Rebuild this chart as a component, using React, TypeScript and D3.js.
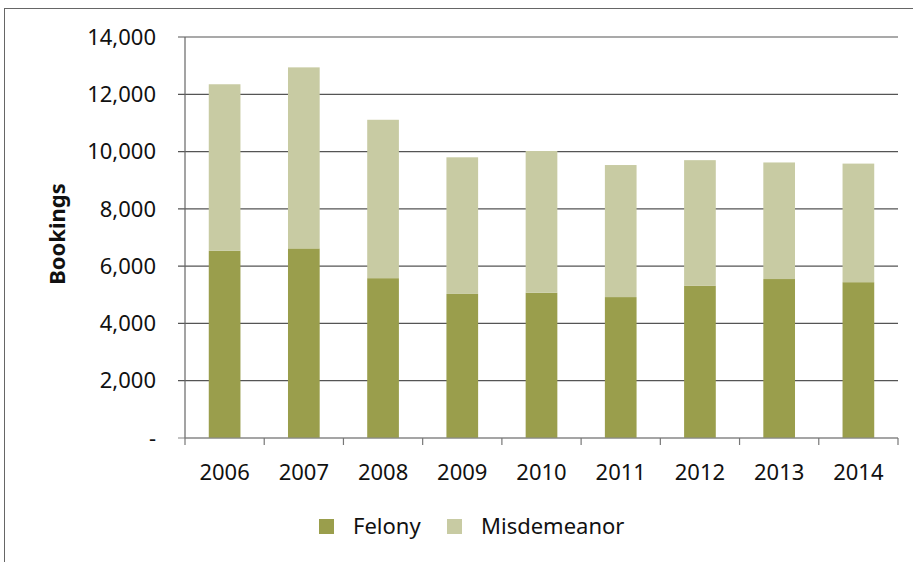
import React from "react";
import * as d3 from "d3";

const years = ["2006", "2007", "2008", "2009", "2010", "2011", "2012", "2013", "2014"];
const felony = [6540, 6620, 5580, 5030, 5070, 4920, 5320, 5550, 5440];
const misdemeanor = [5810, 6320, 5530, 4770, 4950, 4610, 4380, 4070, 4140];
const yTicks = [0, 2000, 4000, 6000, 8000, 10000, 12000, 14000];
const seriesNames = ["Felony", "Misdemeanor"];
const colors = ["#9a9e4c", "#c8cba3"];

export default function App() {
  const W = 913, H = 562;
  const left = 185, right = 898, top = 37, bottom = 438;
  const x = d3.scaleBand().domain(years).range([left, right]).paddingInner(0.6).paddingOuter(0.3);
  const xOuter = d3.scaleBand().domain(years).range([left, right]);
  const y = d3.scaleLinear().domain([0, 14000]).range([bottom, top]);
  const rows = years.map((yr, i) => ({ year: yr, Felony: felony[i], Misdemeanor: misdemeanor[i] }));
  const stacked = d3.stack<any>().keys(seriesNames)(rows);
  const font = "'Noto Sans', 'Open Sans', sans-serif";
  const fmt = (v: number) => (v === 0 ? "-" : d3.format(",")(v));

  return (
    <svg width={W} height={H} style={{ position: "absolute", left: 0, top: 0, background: "#fff" }} fontFamily={font}>
      <rect x={4.5} y={8.5} width={W + 10} height={H + 10} fill="none" stroke="#666" strokeWidth={1} />
      {yTicks.map((t) => (
        <g key={t}>
          <line x1={178} x2={right} y1={y(t)} y2={y(t)} stroke={t === 0 ? "#888" : "#555"} strokeWidth={1.2} />
          <text x={156} y={y(t)} dy="0.35em" textAnchor="end" fontSize={22} fill="#111">{fmt(t)}</text>
        </g>
      ))}
      {stacked.map((s, si) => (
        <g key={s.key} fill={colors[si]}>
          {s.map((d: any, i: number) => (
            <rect key={i} x={x(years[i])} width={x.bandwidth()} y={y(d[1])} height={y(d[0]) - y(d[1])} />
          ))}
        </g>
      ))}
      <line x1={left} x2={left} y1={top} y2={bottom} stroke="#666" strokeWidth={1.2} />
      <line x1={left} x2={right} y1={bottom} y2={bottom} stroke="#888" strokeWidth={1.2} />
      {[...years.map((yr) => xOuter(yr) as number), right].map((px, i) => (
        <line key={i} x1={px} x2={px} y1={bottom} y2={bottom + 7} stroke="#777" strokeWidth={1.2} />
      ))}
      {years.map((yr) => (
        <text key={yr} x={(x(yr) as number) + x.bandwidth() / 2} y={472} dy="0.35em" textAnchor="middle" fontSize={22} fill="#111">{yr}</text>
      ))}
      <text transform={`translate(57,234) rotate(-90)`} textAnchor="middle" dy="0.35em" fontSize={22} fontWeight="bold" fill="#111">Bookings</text>
      {seriesNames.map((n, i) => {
        const lx = [319, 447][i];
        return (
          <g key={n}>
            <rect x={lx} y={519} width={15} height={15} fill={colors[i]} />
            <text x={lx + 34} y={526} dy="0.35em" fontSize={22} fill="#111">{n}</text>
          </g>
        );
      })}
    </svg>
  );
}
